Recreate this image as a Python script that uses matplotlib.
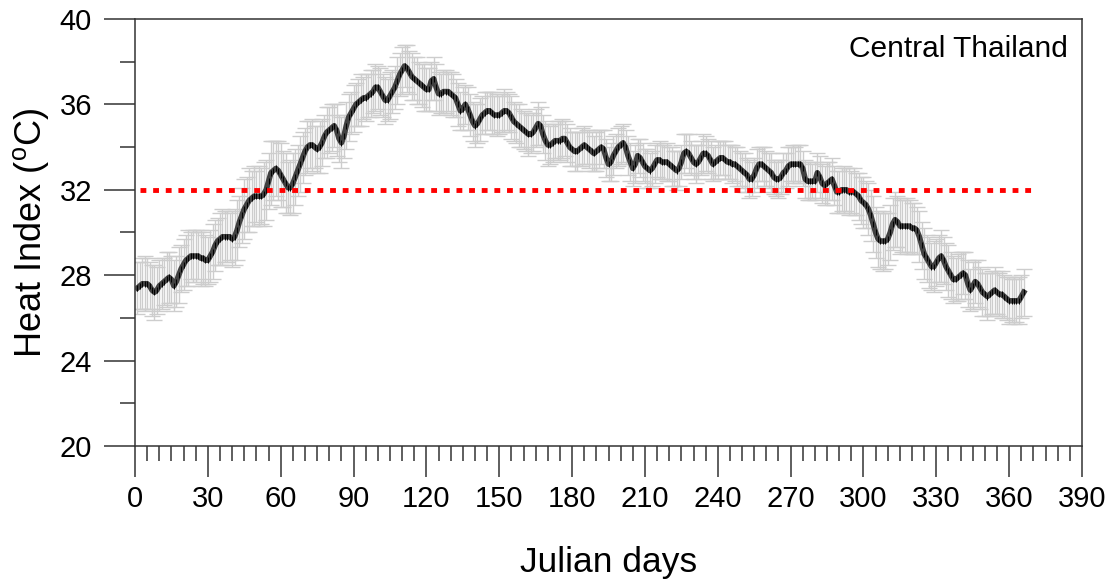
import numpy as np
import matplotlib
matplotlib.use("Agg")
import matplotlib.pyplot as plt
from matplotlib.ticker import MultipleLocator

plt.rcParams["font.family"] = ["Liberation Sans", "DejaVu Sans"]
plt.rcParams["mathtext.fontset"] = "custom"
plt.rcParams["mathtext.rm"] = "Liberation Sans"

# ── Datos: índice de calor diario (media) y su desviación ────────────────────
dias = np.arange(1, 367)

heat_index = [
    27.4, 27.5, 27.6, 27.6, 27.6, 27.5, 27.3, 27.2, 27.3, 27.5,
    27.6, 27.7, 27.8, 27.9, 27.8, 27.5, 27.7, 28.0, 28.3, 28.5,
    28.7, 28.8, 28.9, 28.9, 28.9, 28.9, 28.8, 28.8, 28.7, 28.7,
    28.9, 29.1, 29.4, 29.6, 29.7, 29.8, 29.8, 29.8, 29.8, 29.7,
    29.8, 30.1, 30.5, 30.8, 31.1, 31.3, 31.5, 31.6, 31.7, 31.7,
    31.7, 31.7, 31.8, 32.0, 32.4, 32.8, 32.9, 33.0, 32.9, 32.7,
    32.5, 32.3, 32.1, 32.1, 32.3, 32.6, 32.9, 33.2, 33.5, 33.8,
    34.0, 34.1, 34.1, 34.0, 33.9, 34.0, 34.2, 34.5, 34.7, 34.8,
    34.9, 35.0, 34.8, 34.4, 34.2, 34.5, 35.0, 35.4, 35.6, 35.8,
    36.0, 36.1, 36.2, 36.3, 36.3, 36.4, 36.5, 36.6, 36.8, 36.8,
    36.6, 36.4, 36.2, 36.2, 36.4, 36.6, 36.8, 37.1, 37.4, 37.6,
    37.8, 37.7, 37.5, 37.3, 37.2, 37.1, 37.0, 36.9, 36.8, 36.7,
    36.7, 37.1, 37.2, 36.8, 36.5, 36.5, 36.6, 36.6, 36.6, 36.5,
    36.4, 36.3, 36.0, 35.7, 35.8, 36.0, 35.8, 35.5, 35.2, 35.0,
    35.1, 35.3, 35.5, 35.6, 35.7, 35.7, 35.6, 35.5, 35.5, 35.5,
    35.6, 35.7, 35.7, 35.6, 35.4, 35.2, 35.1, 35.0, 34.9, 34.8,
    34.7, 34.6, 34.6, 34.7, 34.9, 35.1, 35.0, 34.6, 34.3, 34.1,
    34.1, 34.2, 34.3, 34.3, 34.3, 34.4, 34.4, 34.2, 34.0, 33.9,
    33.8, 33.8, 33.9, 34.0, 34.1, 34.0, 33.9, 33.8, 33.7, 33.8,
    33.9, 34.0, 33.9, 33.5, 33.2, 33.3, 33.6, 33.8, 34.0, 34.1,
    34.2, 34.0, 33.6, 33.3, 33.0, 33.2, 33.6, 33.5, 33.3, 33.1,
    33.0, 32.9, 33.0, 33.2, 33.4, 33.4, 33.3, 33.3, 33.3, 33.2,
    33.1, 33.0, 32.9, 33.0, 33.3, 33.7, 33.8, 33.7, 33.5, 33.3,
    33.2, 33.3, 33.5, 33.7, 33.7, 33.6, 33.4, 33.2, 33.3, 33.4,
    33.5, 33.5, 33.4, 33.3, 33.3, 33.2, 33.2, 33.1, 33.0, 32.9,
    32.8, 32.7, 32.5, 32.5, 32.7, 33.0, 33.2, 33.2, 33.1, 33.0,
    32.9, 32.8, 32.6, 32.5, 32.5, 32.6, 32.8, 32.9, 33.1, 33.2,
    33.2, 33.2, 33.2, 33.2, 33.0, 32.5, 32.4, 32.4, 32.4, 32.4,
    32.8, 32.6, 32.3, 32.2, 32.3, 32.4, 32.5, 32.2, 31.9, 31.9,
    32.0, 32.0, 32.0, 31.9, 31.9, 31.9, 31.8, 31.7, 31.5, 31.4,
    31.3, 31.1, 30.8, 30.4, 30.0, 29.7, 29.6, 29.6, 29.6, 29.7,
    30.0, 30.4, 30.6, 30.5, 30.3, 30.3, 30.3, 30.3, 30.3, 30.2,
    30.2, 30.1, 29.8, 29.4, 29.0, 28.8, 28.6, 28.4, 28.4, 28.6,
    28.8, 28.9, 28.7, 28.4, 28.2, 28.0, 27.8, 27.8, 27.9, 28.0,
    28.1, 28.0, 27.6, 27.3, 27.5, 27.7, 27.6, 27.4, 27.2, 27.1,
    27.0, 27.1, 27.2, 27.3, 27.2, 27.1, 27.1, 27.0, 26.9, 26.8,
    26.8, 26.8, 26.8, 26.8, 27.0, 27.2,
]

desviacion = [
    1.2, 1.1, 1.2, 1.3, 1.2, 1.1, 1.2, 1.3, 1.1, 1.2,
    1.2, 1.1, 1.3, 1.2, 1.1, 1.2, 1.2, 1.3, 1.1, 1.2,
    1.2, 1.3, 1.1, 1.2, 1.2, 1.1, 1.3, 1.2, 1.2, 1.1,
    1.2, 1.3, 1.2, 1.1, 1.2, 1.3, 1.2, 1.2, 1.1, 1.3,
    1.3, 1.4, 1.2, 1.3, 1.4, 1.3, 1.5, 1.3, 1.4, 1.2,
    1.4, 1.3, 1.5, 1.4, 1.3, 1.5, 1.4, 1.3, 1.4, 1.5,
    1.3, 1.4, 1.2, 1.3, 1.4, 1.3, 1.2, 1.3, 1.2, 1.1,
    1.2, 1.1, 1.2, 1.0, 1.1, 1.2, 1.1, 1.0, 1.2, 1.1,
    1.1, 1.0, 1.2, 1.1, 1.2, 1.0, 1.1, 1.1, 1.0, 1.1,
    1.0, 1.1, 1.2, 1.0, 1.1, 1.0, 1.1, 1.0, 1.1, 1.0,
    1.1, 1.0, 1.1, 1.0, 1.1, 1.0, 1.0, 1.1, 1.0, 1.1,
    1.0, 1.1, 1.0, 1.1, 1.0, 1.1, 1.0, 1.0, 1.1, 1.0,
    1.0, 0.9, 1.0, 1.1, 1.0, 0.9, 1.0, 1.0, 0.9, 1.0,
    1.0, 0.9, 1.0, 0.9, 1.0, 0.9, 1.0, 1.0, 0.9, 1.0,
    0.9, 1.0, 0.9, 1.0, 0.9, 0.9, 1.0, 0.9, 1.0, 0.9,
    0.9, 1.0, 0.9, 0.9, 1.0, 0.9, 0.9, 1.0, 0.9, 0.9,
    0.9, 1.0, 0.9, 0.9, 0.9, 1.0, 0.9, 0.9, 0.9, 1.0,
    0.9, 0.9, 0.8, 0.9, 0.9, 0.9, 0.8, 0.9, 0.9, 0.8,
    0.9, 0.9, 0.8, 0.9, 0.9, 0.8, 0.9, 0.9, 0.8, 0.9,
    0.9, 0.8, 0.9, 0.9, 0.8, 0.9, 0.9, 0.8, 0.9, 0.9,
    0.9, 0.8, 0.9, 0.9, 0.8, 0.9, 0.8, 0.9, 0.9, 0.8,
    0.9, 0.8, 0.8, 0.9, 0.8, 0.9, 0.8, 0.8, 0.9, 0.8,
    0.9, 0.8, 0.9, 0.8, 0.8, 0.9, 0.8, 0.9, 0.8, 0.8,
    0.9, 0.8, 0.8, 0.9, 0.8, 0.8, 0.9, 0.8, 0.8, 0.9,
    0.8, 0.8, 0.9, 0.8, 0.8, 0.9, 0.8, 0.9, 0.8, 0.8,
    0.9, 0.8, 0.9, 0.8, 0.8, 0.9, 0.8, 0.8, 0.9, 0.8,
    0.8, 0.9, 0.8, 0.8, 0.9, 0.8, 0.9, 0.8, 0.9, 0.8,
    0.9, 0.8, 0.9, 0.9, 0.8, 0.9, 0.9, 0.9, 0.8, 0.9,
    0.9, 1.0, 0.9, 0.9, 1.0, 0.9, 1.0, 0.9, 1.0, 1.0,
    1.0, 1.1, 1.0, 1.1, 1.0, 1.1, 1.0, 1.1, 1.1, 1.2,
    1.1, 1.2, 1.2, 1.3, 1.2, 1.3, 1.3, 1.4, 1.3, 1.2,
    1.3, 1.2, 1.3, 1.2, 1.3, 1.2, 1.2, 1.3, 1.2, 1.2,
    1.2, 1.1, 1.2, 1.1, 1.2, 1.1, 1.2, 1.1, 1.2, 1.1,
    1.1, 1.2, 1.1, 1.1, 1.2, 1.1, 1.1, 1.0, 1.1, 1.1,
    1.0, 1.1, 1.1, 1.0, 1.1, 1.0, 1.1, 1.0, 1.1, 1.0,
    1.1, 1.0, 1.0, 1.1, 1.0, 1.0, 1.1, 1.0, 1.0, 1.1,
    1.0, 1.1, 1.0, 1.1, 1.0, 1.1,
]

umbral = 32
umbral_dias = [2, 369]

# ── Figura ───────────────────────────────────────────────────────────────────
fig = plt.figure(figsize=(11.14, 5.86), dpi=100)
ax = fig.add_axes([0.1212, 0.2389, 0.8501, 0.7287])

ax.errorbar(dias, heat_index, yerr=desviacion, fmt="none",
            ecolor="#cdcdcd", elinewidth=1.0, capsize=6, capthick=1.0,
            zorder=1)
ax.plot(dias, heat_index, color="#404040", linewidth=4.0, zorder=3)
ax.plot(dias, heat_index, linestyle="none", marker="|", markersize=4.5,
        markeredgewidth=0.7, color="black", zorder=4)

ax.plot(umbral_dias, [umbral, umbral], color="red", linewidth=3.5,
        linestyle=(0, (1.2, 1.4)), zorder=5)

ax.text(0.985, 0.93, "Central Thailand", transform=ax.transAxes,
        ha="right", va="center", fontsize=21.5)

ax.set_xlim(0, 390)
ax.set_ylim(20, 40)
ax.xaxis.set_major_locator(MultipleLocator(30))
ax.xaxis.set_minor_locator(MultipleLocator(5))
ax.yaxis.set_major_locator(MultipleLocator(4))
ax.yaxis.set_minor_locator(MultipleLocator(2))

ax.tick_params(axis="both", which="major", direction="out", length=22,
               width=1.1, color="#333333", labelsize=21)
ax.tick_params(axis="both", which="minor", direction="out", length=11,
               width=1.1, color="#333333")
ax.tick_params(axis="x", which="major", pad=6)
ax.tick_params(axis="y", which="major", pad=9)

for s in ax.spines.values():
    s.set_linewidth(1.1)
    s.set_color("#333333")

ax.set_xlabel("Julian days", fontsize=25.5, labelpad=24)
ax.set_ylabel(r"Heat Index ($^{\mathrm{o}}$C)", fontsize=26, labelpad=6)

fig.savefig("out.png", dpi=100)
